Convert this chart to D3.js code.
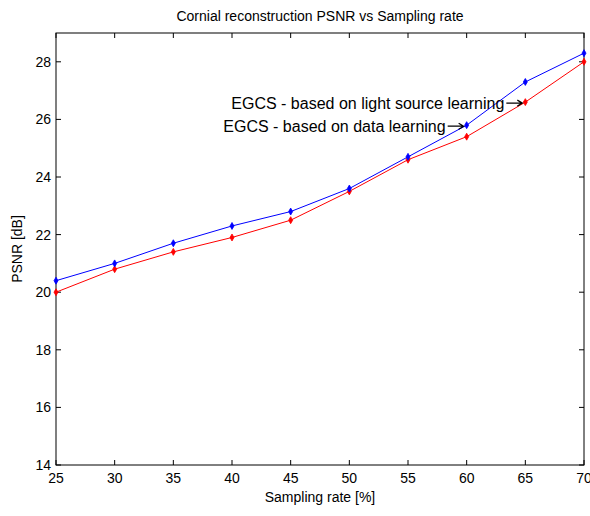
<!DOCTYPE html>
<html><head><meta charset="utf-8">
<script src="https://cdn.jsdelivr.net/npm/d3@7"></script>
<style>body{margin:0;background:#fff}svg text{font-family:"Liberation Sans Narrow","Liberation Sans",Arial,sans-serif;}</style>
</head><body>
<script>
const samplingRate = [25,30,35,40,45,50,55,60,65,70];
const psnrLightSource = [20.4,21.0,21.7,22.3,22.8,23.6,24.7,25.8,27.3,28.3];
const psnrData = [20.0,20.8,21.4,21.9,22.5,23.5,24.6,25.4,26.6,28.0];
const xTicks = [25,30,35,40,45,50,55,60,65,70];
const yTicks = [14,16,18,20,22,24,26,28];

const W=590,H=516, L=56,R=584,T=33,B=465;
const svg=d3.select("body").append("svg").attr("width",W).attr("height",H);
const x=d3.scaleLinear().domain([25,70]).range([L,R]);
const y=d3.scaleLinear().domain([14,29]).range([B,T]);

svg.append("rect").attr("x",L).attr("y",T).attr("width",R-L).attr("height",B-T).attr("fill","#fff").attr("stroke","#000").attr("stroke-width",1);

const tl=5;
const gx=svg.append("g");
xTicks.forEach(v=>{
  gx.append("line").attr("x1",x(v)).attr("x2",x(v)).attr("y1",B).attr("y2",B-tl).attr("stroke","#000");
  gx.append("line").attr("x1",x(v)).attr("x2",x(v)).attr("y1",T).attr("y2",T+tl).attr("stroke","#000");
  gx.append("text").attr("x",x(v)).attr("y",B+18).attr("text-anchor","middle").attr("font-size",14).text(v);
});
yTicks.forEach(v=>{
  gx.append("line").attr("x1",L).attr("x2",L+tl).attr("y1",y(v)).attr("y2",y(v)).attr("stroke","#000");
  gx.append("line").attr("x1",R).attr("x2",R-tl).attr("y1",y(v)).attr("y2",y(v)).attr("stroke","#000");
  gx.append("text").attr("x",L-5).attr("y",y(v)).attr("dy","0.35em").attr("text-anchor","end").attr("font-size",14).text(v);
});

svg.append("text").attr("x",(L+R)/2).attr("y",21).attr("text-anchor","middle").attr("font-size",14).text("Cornial reconstruction PSNR vs Sampling rate");
svg.append("text").attr("x",(L+R)/2).attr("y",502).attr("text-anchor","middle").attr("font-size",14).text("Sampling rate [%]");
svg.append("text").attr("transform","translate(22,"+((T+B)/2)+") rotate(-90)").attr("text-anchor","middle").attr("font-size",14).text("PSNR [dB]");

const line=d3.line().x((d,i)=>x(samplingRate[i])).y(d=>y(d));
[[psnrData,"#ff0000"],[psnrLightSource,"#0000ff"]].forEach(([s,c])=>{
  svg.append("path").attr("d",line(s)).attr("fill","none").attr("stroke",c).attr("stroke-width",1);
  svg.selectAll(null).data(s).enter().append("path")
    .attr("d",d3.symbol(d3.symbolDiamond,14))
    .attr("transform",(d,i)=>`translate(${x(samplingRate[i])},${y(d)})`)
    .attr("fill",c).attr("stroke",c).attr("stroke-width",0.8);
});

// annotations
const ann=[
  {text:"EGCS - based on light source learning", xi:8, s:psnrData},
  {text:"EGCS - based on data learning", xi:7, s:psnrLightSource}
];
ann.forEach(a=>{
  const px=x(samplingRate[a.xi]), py=y(a.s[a.xi])+1;
  svg.append("text").attr("x",px-21).attr("y",py).attr("dy","0.35em")
    .attr("text-anchor","end").attr("font-size",16).text(a.text);
  const x0=px-19, x1=px-3;
  svg.append("path").attr("d",`M${x0},${py}H${x1}M${x1-5},${py-3}L${x1},${py}L${x1-5},${py+3}`)
    .attr("fill","none").attr("stroke","#000").attr("stroke-width",1.2);
});
</script>
</body></html>
